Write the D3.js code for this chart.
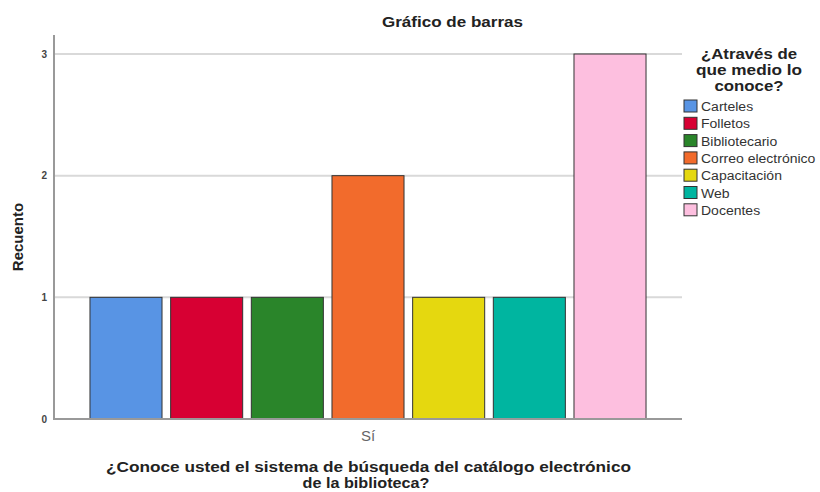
<!DOCTYPE html>
<html><head><meta charset="utf-8">
<script src="https://cdn.jsdelivr.net/npm/d3@7"></script>
<style>body{margin:0;background:#fff;} text{font-family:"Liberation Sans",Arial,sans-serif;}</style>
</head><body><svg id="c" width="820" height="492"></svg>
<script>
const categories = ["Sí"];
const series = ["Carteles","Folletos","Bibliotecario","Correo electrónico","Capacitación","Web","Docentes"];
const values = [1,1,1,2,1,1,3];
const colors = ["#5894e4","#d70033","#2a852a","#f26b2c","#e5d80f","#00b5a0","#fdbfdf"];
const yTicks = [0,1,2,3];

const svg = d3.select("#c");
const L=54, R=682, T=35, B=419;
const y = d3.scaleLinear().domain([0,3]).range([B,54]);
const x0 = d3.scaleBand().domain(categories).range([L,R]);
const x1 = d3.scaleBand().domain(series).range([x0("Sí"), x0("Sí")+x0.bandwidth()]).paddingInner(0.107).paddingOuter(0.446);

// stretch helper: widen text horizontally by factor k
function stretch(sel,k){ sel.each(function(){ const w=this.getComputedTextLength(); d3.select(this).attr("textLength",w*k).attr("lengthAdjust","spacingAndGlyphs"); }); }

// gridlines
svg.append("g").selectAll("line").data(yTicks.filter(d=>d>0)).join("line")
  .attr("x1",L).attr("x2",R).attr("y1",d=>y(d)).attr("y2",d=>y(d))
  .attr("stroke","#d9d9d9").attr("stroke-width",2);

// bars
svg.append("g").selectAll("rect").data(series).join("rect")
  .attr("x",d=>x1(d)).attr("width",x1.bandwidth())
  .attr("y",(d,i)=>y(values[i])).attr("height",(d,i)=>B-y(values[i]))
  .attr("fill",(d,i)=>colors[i]).attr("stroke","#333").attr("stroke-width",1);

// y axis
const ya = svg.append("g").attr("transform",`translate(${L},0)`)
  .call(d3.axisLeft(y).tickValues(yTicks).tickFormat(d3.format("d")).tickSize(0).tickPadding(7));
ya.select(".domain").remove();
ya.selectAll("text").attr("font-size",10).attr("font-weight","bold").attr("fill","#444").attr("font-family","Liberation Sans, Arial, sans-serif");
svg.append("line").attr("x1",L).attr("x2",L).attr("y1",T).attr("y2",B+1).attr("stroke","#999").attr("stroke-width",2);

// x axis
const xa = svg.append("g").attr("transform",`translate(0,${B})`)
  .call(d3.axisBottom(x0).tickSize(0).tickPadding(11));
xa.select(".domain").remove();
xa.selectAll("text").attr("font-size",15).attr("fill","#666").attr("font-family","Liberation Sans, Arial, sans-serif");
svg.append("line").attr("x1",L).attr("x2",R).attr("y1",B).attr("y2",B).attr("stroke","#999").attr("stroke-width",2);

// titles
svg.append("text").attr("x",452.5).attr("y",27).attr("text-anchor","middle").attr("font-size",15).attr("font-weight","bold").attr("fill","#222")
  .text("Gráfico de barras").attr("textLength",141).attr("lengthAdjust","spacingAndGlyphs");
svg.append("text").attr("transform","translate(23,237) rotate(-90)").attr("text-anchor","middle").attr("font-size",15).attr("font-weight","bold").attr("fill","#222").text("Recuento");
const xt = svg.append("text").attr("text-anchor","middle").attr("font-size",15).attr("font-weight","bold").attr("fill","#222");
xt.append("tspan").attr("x",368.5).attr("y",472).text("¿Conoce usted el sistema de búsqueda del catálogo electrónico").attr("textLength",525).attr("lengthAdjust","spacingAndGlyphs");
svg.append("text").attr("text-anchor","middle").attr("font-size",15).attr("font-weight","bold").attr("fill","#222")
  .attr("x",366).attr("y",488).text("de la biblioteca?").attr("textLength",127).attr("lengthAdjust","spacingAndGlyphs");

// legend
const ltitle = [["¿Através de",96],["que medio lo",106],["conoce?",69]];
ltitle.forEach((s,i)=>svg.append("text").attr("text-anchor","middle").attr("font-size",15.5).attr("font-weight","bold").attr("fill","#222")
  .attr("x",749).attr("y",59+i*15.8).text(s[0]).attr("textLength",s[1]).attr("lengthAdjust","spacingAndGlyphs"));
const lg = svg.append("g").selectAll("g").data(series).join("g")
  .attr("transform",(d,i)=>`translate(684,${100+i*17.3})`);
lg.append("rect").attr("width",13).attr("height",12).attr("fill",(d,i)=>colors[i]).attr("stroke","#333").attr("stroke-width",1);
lg.append("text").attr("x",17).attr("y",11).attr("font-size",12.5).attr("fill","#333").text(d=>d).call(stretch,1.12);
</script></body></html>
